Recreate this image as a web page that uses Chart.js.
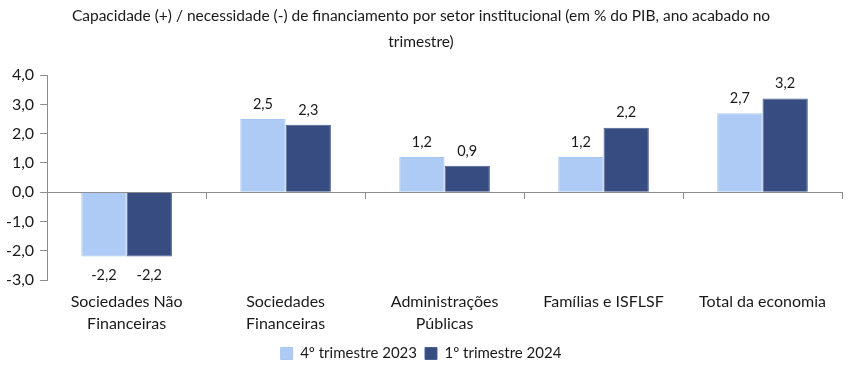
<!DOCTYPE html>
<html>
<head>
<meta charset="utf-8">
<script src="https://cdn.jsdelivr.net/npm/chart.js@4/dist/chart.umd.min.js"></script>
<style>
  html, body { margin: 0; padding: 0; background: #fff; }
  #wrap { width: 851px; height: 368px; position: relative; }
</style>
</head>
<body>
<div id="wrap"><canvas id="myChart"></canvas></div>
<script>
// Capacidade / necessidade de financiamento por setor institucional

const sectors = [
  ["Sociedades Não", "Financeiras"],
  ["Sociedades", "Financeiras"],
  ["Administrações", "Públicas"],
  "Famílias e ISFLSF",
  "Total da economia"
]
const q4_2023 = [-2.2, 2.5, 1.2, 1.2, 2.7]
const q1_2024 = [-2.2, 2.3, 0.9, 2.2, 3.2]
const seriesNames = ["4º trimestre 2023", "1º trimestre 2024"]

const fmt = v => v.toFixed(1).replace('.', ',')
const FONT = "Lato, 'Open Sans', sans-serif"
const TXT = '#1a1a1a'
const AXIS = '#8c8c8c'

// value labels above (or below) each bar
const barLabels = {
  id: 'barLabels',
  afterDatasetsDraw(chart) {
    const ctx = chart.ctx
    ctx.save()
    ctx.font = "14.5px " + FONT
    ctx.fillStyle = TXT
    ctx.textAlign = 'center'
    ctx.textBaseline = 'middle'
    chart.data.datasets.forEach((ds, i) => {
      chart.getDatasetMeta(i).data.forEach((bar, j) => {
        const v = ds.data[j]
        const y = v >= 0 ? bar.y - 15 : bar.y + 19
        ctx.fillText(fmt(v), bar.x, y)
      })
    })
    ctx.restore()
  }
}

const data = {
  labels: sectors,
  datasets: [
    {
      label: seriesNames[0],
      data: q4_2023,
      backgroundColor: '#aecbf5',
      borderColor: '#a9c6f0',
      borderWidth: 1
    },
    {
      label: seriesNames[1],
      data: q1_2024,
      backgroundColor: '#374c80',
      borderColor: '#4a5f92',
      borderWidth: 1
    }
  ]
}

const options = {
  responsive: true,
  maintainAspectRatio: false,
  animation: false,
  layout: { padding: { left: 0, right: 9, top: 0, bottom: -3 } },
  datasets: {
    bar: { categoryPercentage: 0.57, barPercentage: 1.0 }
  },
  plugins: {
    title: {
      display: true,
      text: ["Capacidade (+) / necessidade (-) de financiamento por setor institucional (em % do PIB, ano acabado no", "trimestre)"],
      color: TXT,
      font: { family: FONT, size: 15.5, weight: 'normal', lineHeight: 1.68 },
      padding: { top: 3, bottom: 20 }
    },
    legend: {
      position: 'bottom',
      labels: {
        color: TXT,
        font: { family: FONT, size: 15 },
        boxWidth: 12,
        boxHeight: 12,
        padding: 8
      }
    },
    tooltip: { enabled: false }
  },
  scales: {
    x: {
      grid: { display: false },
      border: { display: false },
      ticks: { color: TXT, font: { family: FONT, size: 16, lineHeight: 1.375 }, padding: 3, maxRotation: 0 }
    },
    xZero: {
      type: 'category',
      labels: sectors,
      position: { y: 0 },
      offset: true,
      ticks: { display: false },
      grid: { drawOnChartArea: false, tickLength: 6, color: AXIS, offset: true },
      border: { display: true, color: AXIS }
    },
    y: {
      min: -3,
      max: 4,
      ticks: {
        stepSize: 1,
        color: TXT,
        font: { family: FONT, size: 16 },
        padding: 6,
        callback: v => fmt(v)
      },
      grid: { drawOnChartArea: false, tickLength: 7, color: AXIS },
      border: { display: true, color: AXIS }
    }
  }
}

const config = {
  type: 'bar',
  data: data,
  options: options,
  plugins: [barLabels]
}

const chart = new Chart(document.querySelector('#myChart'), config)
</script>
</body>
</html>
